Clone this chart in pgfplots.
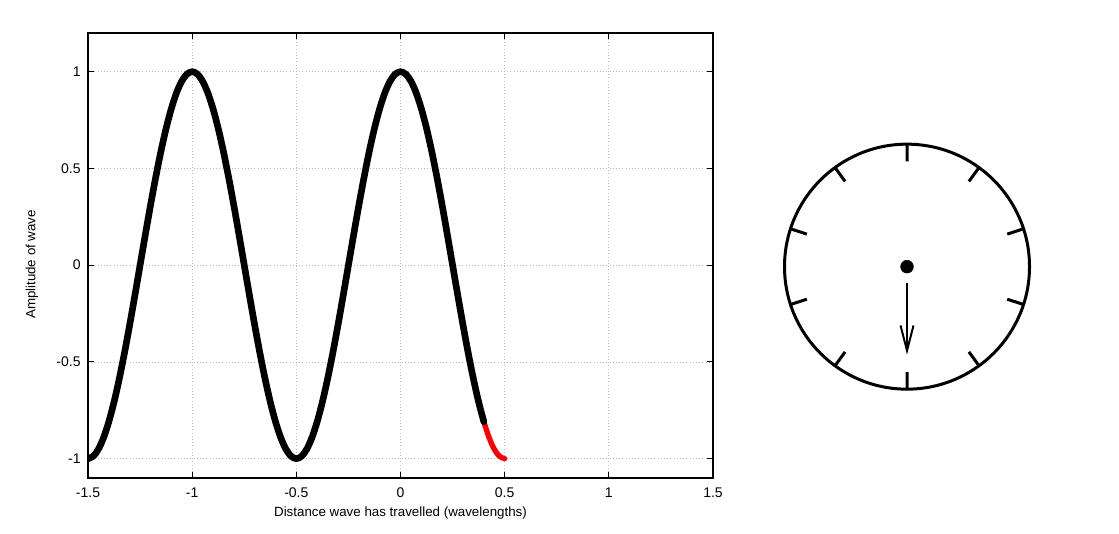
\documentclass[border=0pt]{standalone}
\usepackage{pgfplots}
\pgfplotsset{compat=1.18}
\usepackage{fontspec}
\setmainfont{Liberation Sans}
\pgfplotstableread{
x y
-1.500 -1
-1.475 -0.98769
-1.450 -0.95106
-1.425 -0.89101
-1.400 -0.80902
-1.375 -0.70711
-1.350 -0.58779
-1.325 -0.45399
-1.300 -0.30902
-1.275 -0.15643
-1.250 0
-1.225 0.15643
-1.200 0.30902
-1.175 0.45399
-1.150 0.58779
-1.125 0.70711
-1.100 0.80902
-1.075 0.89101
-1.050 0.95106
-1.025 0.98769
-1.000 1
-0.975 0.98769
-0.950 0.95106
-0.925 0.89101
-0.900 0.80902
-0.875 0.70711
-0.850 0.58779
-0.825 0.45399
-0.800 0.30902
-0.775 0.15643
-0.750 0
-0.725 -0.15643
-0.700 -0.30902
-0.675 -0.45399
-0.650 -0.58779
-0.625 -0.70711
-0.600 -0.80902
-0.575 -0.89101
-0.550 -0.95106
-0.525 -0.98769
-0.500 -1
-0.475 -0.98769
-0.450 -0.95106
-0.425 -0.89101
-0.400 -0.80902
-0.375 -0.70711
-0.350 -0.58779
-0.325 -0.45399
-0.300 -0.30902
-0.275 -0.15643
-0.250 0
-0.225 0.15643
-0.200 0.30902
-0.175 0.45399
-0.150 0.58779
-0.125 0.70711
-0.100 0.80902
-0.075 0.89101
-0.050 0.95106
-0.025 0.98769
0.000 1
0.025 0.98769
0.050 0.95106
0.075 0.89101
0.100 0.80902
0.125 0.70711
0.150 0.58779
0.175 0.45399
0.200 0.30902
0.225 0.15643
0.250 0
0.275 -0.15643
0.300 -0.30902
0.325 -0.45399
0.350 -0.58779
0.375 -0.70711
0.400 -0.80902
}\wavepast
\pgfplotstableread{
x y
0.400 -0.80902
0.425 -0.89101
0.450 -0.95106
0.475 -0.98769
0.500 -1
}\wavenew
\begin{document}
\begin{tikzpicture}
\useasboundingbox (0,0) rectangle (839.25pt,400.5pt);
\begin{axis}[
  at={(66pt,42pt)}, anchor=south west,
  scale only axis, width=468.75pt, height=333.75pt,
  xmin=-1.5, xmax=1.5, ymin=-1.1, ymax=1.2,
  xtick={-1.5,-1,-0.5,0,0.5,1,1.5},
  ytick={-1,-0.5,0,0.5,1},
  xticklabels={-1.5,-1,-0.5,0,0.5,1,1.5},
  yticklabels={-1,-0.5,0,0.5,1},
  tick align=inside, major tick length=4.5pt,
  tick style={black, line width=0.75pt},
  grid=major,
  major grid style={gray!55, dotted, line width=0.6pt},
  axis line style={black, line width=0.9pt},
  ticklabel style={font=\fontsize{10.5}{12}\selectfont},
  label style={font=\fontsize{10.5}{12}\selectfont},
  xlabel={Distance wave has travelled (wavelengths)},
  ylabel={Amplitude of wave},
  every axis x label/.style={at={(axis description cs:0.5,-0.0787)}, anchor=center},
  every axis y label/.style={at={(axis description cs:-0.0896,0.48)}, anchor=center, rotate=90},
  xticklabel style={yshift=-4pt},
  yticklabel style={xshift=-2pt},
]
\addplot[red, line width=4pt, line cap=round, smooth] table[x=x,y=y] {\wavenew};
\addplot[black, line width=5pt, line cap=round, line join=round, smooth] table[x=x,y=y] {\wavepast};
\end{axis}
\begin{axis}[
  at={(588.375pt,108.625pt)}, anchor=south west,
  scale only axis, width=183.75pt, height=183.75pt,
  xmin=-1, xmax=1, ymin=-1, ymax=1,
  hide axis, clip=false,
]
\draw[black, line width=2.25pt] (axis cs:0,0) circle[radius=1];
\addplot[black, line width=2.25pt, unbounded coords=jump] coordinates {
(0,0.86) (0,1) (nan,nan)
(0.50549,0.69576) (0.58779,0.80902) (nan,nan)
(0.81791,0.26576) (0.95106,0.30902) (nan,nan)
(0.81791,-0.26576) (0.95106,-0.30902) (nan,nan)
(0.50549,-0.69576) (0.58779,-0.80902) (nan,nan)
(0,-0.86) (0,-1) (nan,nan)
(-0.50549,-0.69576) (-0.58779,-0.80902) (nan,nan)
(-0.81791,-0.26576) (-0.95106,-0.30902) (nan,nan)
(-0.81791,0.26576) (-0.95106,0.30902) (nan,nan)
(-0.50549,0.69576) (-0.58779,0.80902)
};
\addplot[black, only marks, mark=*, mark size=4.8pt] coordinates {(0,0)};
\addplot[black, line width=1.5pt] coordinates {(0,-0.13) (0,-0.686)};
\addplot[black, line width=1.5pt, line join=miter] coordinates {(-0.053,-0.48) (0,-0.686) (0.053,-0.48)};
\end{axis}
\end{tikzpicture}
\end{document}
